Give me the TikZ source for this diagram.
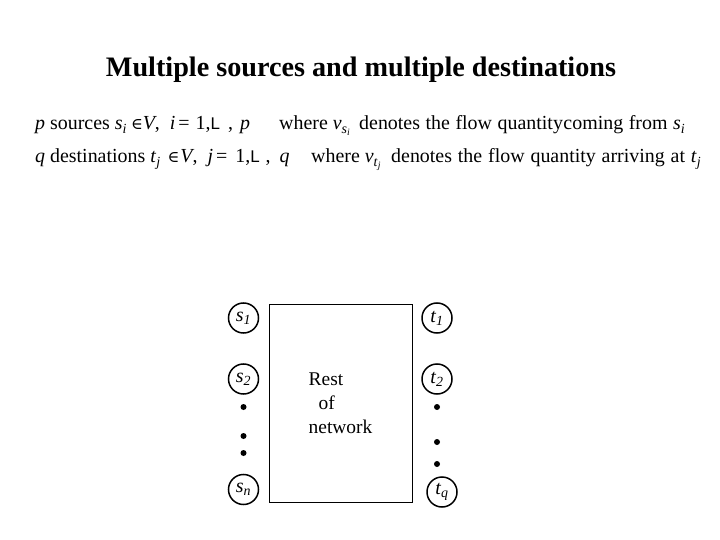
\documentclass[tikz,border=0pt]{standalone}
\usepackage{fontspec}
\setmainfont{Liberation Serif}
\setsansfont{Liberation Sans}
\newfontfamily\symfont{DejaVu Serif}
\usetikzlibrary{positioning}

\newcommand{\idx}[2]{\textit{#1}\textsubscript{\textit{#2}}}
\newcommand{\elem}{{\symfont\fontsize{16}{16}\selectfont ∈}}
\newcommand{\bisL}{1,{\sffamily\fontsize{17}{17}\selectfont L}}

\begin{document}
\begin{tikzpicture}[x=1bp, y=-1bp,
      knoten/.style={draw, circle, line width=1.5bp, minimum size=30bp,
        inner sep=0pt, font=\fontsize{20}{22}\selectfont},
      punkt/.style={fill, circle, inner sep=0pt, minimum size=6bp},
      zeile/.style={anchor=base west, inner sep=0pt,
        font=\fontsize{20}{22}\selectfont},
      netz/.style={draw, line width=0.8bp, minimum width=143bp,
        minimum height=198bp, align=left, font=\fontsize{19.5}{24}\selectfont}]
    \useasboundingbox (0,0) rectangle (720,540);
    \node[anchor=base, inner sep=0pt, font=\fontsize{28.3}{30}\selectfont\bfseries]
      (titel) at (361,77) {Multiple sources and multiple destinations};
    % Textzeilen
    \node[zeile] (z1a) at (35,130) {\textit{p} sources \idx{s}{i}\hspace{4bp}\elem\textit{V},\hspace{10bp}\textit{i}\hspace{3bp}=\hspace{6bp}\bisL\hspace{8bp},\hspace{7bp}\textit{p}};
    \node[zeile] (z1b) at (279,130) {where \textit{v}\textsubscript{\idx{s}{i}}};
    \node[zeile] (z1c) at (359,130) {\makebox[326bp][s]{denotes the flow quantity\hspace{0.5bp}coming from \idx{s}{i}}};
    \node[zeile] (z2a) at (35,163) {\textit{q} destinations \idx{t}{j}\hspace{7bp}\elem\hspace{1bp}\textit{V},\hspace{10bp}\textit{j}\hspace{3bp}=\hspace{8bp}\bisL\hspace{6bp},\hspace{9bp}\textit{q}};
    \node[zeile] (z2b) at (311,163) {where \textit{v}\textsubscript{\idx{t}{j}}};
    \node[zeile] (z2c) at (391,163) {\makebox[310bp][s]{denotes the flow quantity arriving at \idx{t}{j}}};
    % Netzwerk
    \node[netz] (rest) at (340.5,403) {Rest\\\hspace*{10bp}of\\network};
    \node[knoten] (s1) at (243.5,318) {\idx{s}{1}};
    \node[knoten] (s2) at (243.5,379) {\idx{s}{2}};
    \node[knoten] (sn) at (243.5,489.5) {\idx{s}{n}};
    \node[knoten] (t1) at (437,318) {\idx{t}{1}};
    \node[knoten] (t2) at (437,379) {\idx{t}{2}};
    \node[knoten] (tq) at (442,492) {\idx{t}{q}};
    \foreach \y in {407,436,453} \node[punkt] at (243.5,\y) {};
    \foreach \y in {407,442,464} \node[punkt] at (437,\y) {};
  \end{tikzpicture}
\end{document}
